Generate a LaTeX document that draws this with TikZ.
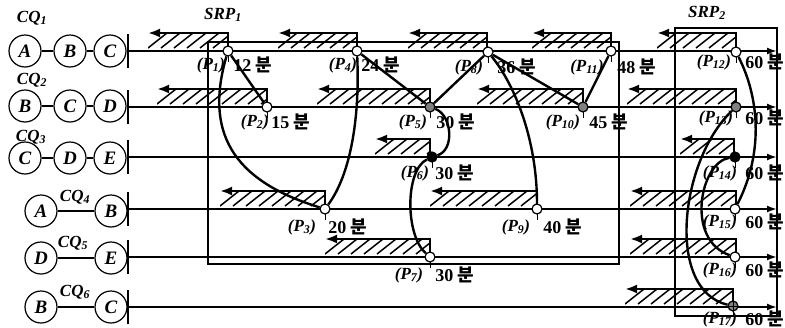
\documentclass[tikz,border=0pt]{standalone}
\usepackage{fontspec}
\setmainfont{Liberation Serif}
\newfontfamily\krfont{Noto Sans CJK KR}
\usetikzlibrary{arrows.meta}

\begin{document}
\begin{tikzpicture}[x=1pt, y=-1pt,
    cq/.style={draw, circle, line width=1.2pt, minimum size=32pt, inner sep=0pt,
        font=\fontsize{19}{19}\selectfont\bfseries\itshape},
    pt/.style={draw, circle, line width=1.2pt, minimum size=10pt, inner sep=0pt},
    lab/.style={inner sep=0pt, font=\fontsize{17}{17}\selectfont\bfseries\itshape},
    num/.style={inner sep=0pt, font=\fontsize{18}{18}\selectfont\bfseries},
    rowline/.style={line width=1.8pt, -{Latex[length=10pt,width=7pt]}},
    link/.style={line width=2.4pt},
    srpbox/.style={line width=2.2pt},
    hatch/.style={line width=1.5pt},
    bartop/.style={line width=2.8pt, -{Latex[length=12pt,width=9pt]}}]
    \useasboundingbox (0,0) rectangle (785,327);

    % Query chains
    \node[lab] (cq1) at (32,18) {CQ\textsubscript{1}};
    \node[lab] (cq2) at (32,80) {CQ\textsubscript{2}};
    \node[lab] (cq3) at (31,137) {CQ\textsubscript{3}};
    \node[lab] (cq4) at (75,197) {CQ\textsubscript{4}};
    \node[lab] (cq5) at (73,243) {CQ\textsubscript{5}};
    \node[lab] (cq6) at (75,292) {CQ\textsubscript{6}};

    \node[cq] (q1a) at (25,51) {A};
    \node[cq] (q1b) at (70,51) {B};
    \node[cq] (q1c) at (110,51) {C};
    \node[cq] (q2a) at (25,106) {B};
    \node[cq] (q2b) at (70,106) {C};
    \node[cq] (q2c) at (110,106) {D};
    \node[cq] (q3a) at (25,158) {C};
    \node[cq] (q3b) at (70,158) {D};
    \node[cq] (q3c) at (110,158) {E};
    \node[cq] (q4a) at (41,211) {A};
    \node[cq] (q4b) at (111,211) {B};
    \node[cq] (q5a) at (41,258) {D};
    \node[cq] (q5b) at (111,258) {E};
    \node[cq] (q6a) at (41,307) {B};
    \node[cq] (q6b) at (111,307) {C};
    \draw[line width=1.2pt] (q1a) -- (q1b) -- (q1c);
    \draw[line width=1.2pt] (q2a) -- (q2b) -- (q2c);
    \draw[line width=1.2pt] (q3a) -- (q3b) -- (q3c);
    \draw[line width=1.2pt] (q4a) -- (q4b);
    \draw[line width=1.2pt] (q5a) -- (q5b);
    \draw[line width=1.2pt] (q6a) -- (q6b);

    % Time lines
    \foreach \r/\y in {1/51,2/107,3/157,4/209,5/257,6/307} {
        \coordinate (s\r) at (128,\y);
        \coordinate (e\r) at (777,\y);
        \draw[line width=1.8pt] (128,\y-17) -- (128,\y+17);
        \draw[rowline] (s\r) -- (e\r);
    }

    % Hatched bars
    \foreach \xl/\xr/\y in {148/228/51, 278/357/51, 408/487/51, 532/611/51, 657/736/51,
                            157/267/107, 317/430/107, 477/583/107, 627/736/107,
                            375/430/157, 680/734/157,
                            220/325/209, 430/537/209, 630/736/209,
                            325/430/257, 630/736/257,
                            625/733/307} {
        \begin{scope}
            \clip (\xl,\y-18) rectangle (\xr,\y-3);
            \foreach \k in {0,...,9}
                \draw[hatch] (\xl+\k*13,\y-3) -- ++(19,-15);
        \end{scope}
        \draw[bartop] (\xr,\y) -- (\xr,\y-18) -- (\xl,\y-18);
    }

    % Strict regions
    \draw[srpbox] (208,42) rectangle (619,264);
    \draw[srpbox] (675,28) rectangle (777,316);
    \node[lab] (srp1) at (223,15) {SRP\textsubscript{1}};
    \node[lab] (srp2) at (707,13) {SRP\textsubscript{2}};

    % Points
    \foreach \i/\x/\y/\f in {1/228/51/white, 2/267/107/white, 3/325/209/white,
                             4/357/51/white, 5/430/107/gray, 6/432/157/black,
                             7/430/257/white, 8/488/52/white, 9/537/209/white,
                             10/583/107/gray, 11/611/51/white, 12/736/52/white,
                             13/736/107/gray, 14/735/157/black, 15/735/209/white,
                             16/735/257/white, 17/733/306/gray} {
        \draw[line width=1pt] (\x,\y+5) -- (\x,\y+11);
        \node[pt, fill=\f] (p\i) at (\x,\y) {};
    }
    \draw[line width=0.8pt] (p17.north) -- (p17.south) (p17.west) -- (p17.east);

    % Labels
    \foreach \i/\lx/\nx/\ly/\t in {1/211/253/65/12, 2/255/291/122/15, 3/302/348/227/20,
                                   4/343/381/65/24, 5/413/456/122/30, 6/415/455/173/30,
                                   7/409/455/275/30, 8/469/517/67/36, 9/516/563/227/40,
                                   10/563/609/122/45, 11/587/637/67/48, 12/714/765/62/60,
                                   13/716/765/118/60, 14/720/765/173/60, 15/720/765/222/60,
                                   16/720/765/270/60, 17/720/765/319/60} {
        \node[lab] (pl\i) at (\lx,\ly) {(P\textsubscript{\i})};
        \node[num] (pn\i) at (\nx,\ly) {\t\ {\krfont 분}};
    }

    % Links inside SRP1
    \draw[link] (p1) -- (p2);
    \draw[link] (p1) .. controls (205,130) and (230,180) .. (p3);
    \draw[link] (p4) .. controls (360,120) and (350,175) .. (p3);
    \draw[link] (p4) -- (p5);
    \draw[link] (p8) -- (p5);
    \draw[link] (p8) -- (p10);
    \draw[link] (p8) .. controls (515,85) and (537,140) .. (p9);
    \draw[link] (p11) -- (p10);
    \draw[link] (p5) .. controls (452,115) and (455,150) .. (p6);
    \draw[link] (p6) .. controls (405,170) and (405,235) .. (p7);

    % Links inside SRP2
    \draw[link] (p12) .. controls (758,95) and (765,150) .. (p15);
    \draw[link] (p13) .. controls (680,160) and (665,290) .. (p17);
    \draw[link] (p14) .. controls (700,162) and (685,240) .. (p16);
\end{tikzpicture}
\end{document}
